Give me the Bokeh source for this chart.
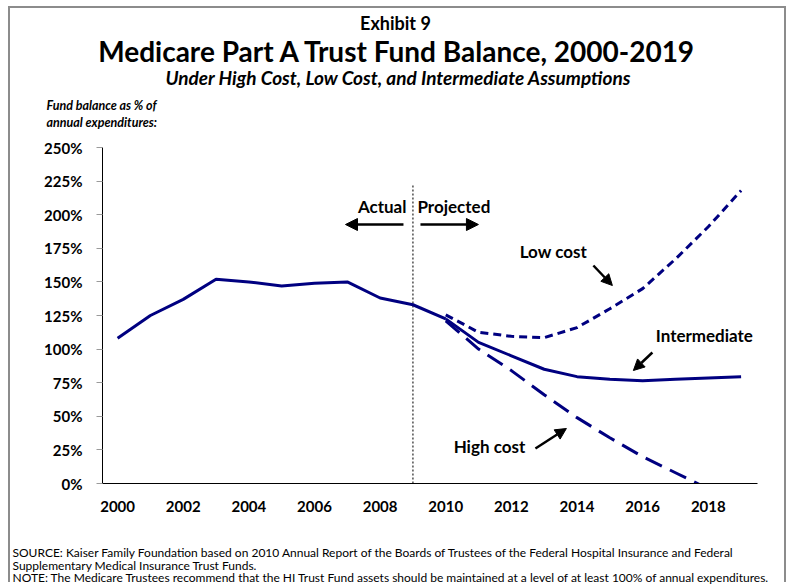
from bokeh.plotting import figure
from bokeh.models import (Range1d, FixedTicker, PrintfTickFormatter, Label, Arrow, NormalHead)
from bokeh.embed import file_html
from bokeh.resources import INLINE

# ---- data ----
years_actual = [2000, 2001, 2002, 2003, 2004, 2005, 2006, 2007, 2008, 2009, 2010]
actual = [108, 125, 137, 152, 150, 147, 149, 150, 138, 133, 122.5]

years_proj = [2010, 2011, 2012, 2013, 2014, 2015, 2016, 2017, 2018, 2019]
intermediate = [122.5, 105, 95, 85, 79.5, 77.5, 76.5, 77.5, 78.5, 79.5]
low_cost = [125.5, 112.5, 109.5, 108.5, 116, 130, 145, 167, 191, 218]
years_high = [2010, 2011, 2012, 2013, 2014, 2015, 2016, 2017, 2018]
high_cost = [121, 100, 84, 66, 49, 34, 20, 8, -4]

divider_year = 2009
divider_top = 223

x_ticks = [2000, 2002, 2004, 2006, 2008, 2010, 2012, 2014, 2016, 2018]
y_ticks = [0, 25, 50, 75, 100, 125, 150, 175, 200, 225, 250]

NAVY = "#000080"
FONT = "Lato"

# ---- main chart: canvas at page (10, 8) ----
p = figure(width=778, height=576, output_backend="svg", toolbar_location=None,
           x_range=Range1d(1999.54, 2019.5), y_range=Range1d(0, 250),
           min_border_left=92, min_border_right=31, min_border_top=139, min_border_bottom=101)
p.styles = {"margin-left": "8px", "margin-top": "6px",
            "border-left": "2px solid #8c8c8c", "border-top": "2px solid #8c8c8c",
            "border-right": "2px solid #8c8c8c"}
p.xgrid.visible = False
p.ygrid.visible = False
p.outline_line_color = None
p.background_fill_color = "white"
p.border_fill_color = "white"

p.yaxis.ticker = FixedTicker(ticks=y_ticks)
p.yaxis.formatter = PrintfTickFormatter(format="%d%%")
p.yaxis.major_tick_out = 6
p.yaxis.major_tick_in = 0
p.yaxis.minor_tick_line_color = None
p.yaxis.major_tick_line_color = "#9a9a9a"
p.yaxis.axis_line_color = "black"
p.yaxis.major_label_standoff = 14
p.xaxis.ticker = FixedTicker(ticks=x_ticks)
p.xaxis.major_tick_out = 0
p.xaxis.major_tick_in = 0
p.xaxis.minor_tick_line_color = None
p.xaxis.axis_line_color = "black"
p.xaxis.major_label_standoff = 17
for ax in (p.xaxis, p.yaxis):
    ax.major_label_text_font = FONT
    ax.major_label_text_font_style = "bold"
    ax.major_label_text_font_size = "15px"
    ax.major_label_text_color = "black"

p.segment(x0=[divider_year], y0=[0], x1=[divider_year], y1=[divider_top],
          line_color="#222222", line_width=1.2, line_dash="2 2")

p.line(years_actual, actual, line_color=NAVY, line_width=3)
p.line(years_proj, intermediate, line_color=NAVY, line_width=3)
p.line(years_proj, low_cost, line_color=NAVY, line_width=3, line_dash="8 5")
p.line(years_high, high_cost, line_color=NAVY, line_width=3, line_dash="18 9")


def dx(px):
    return 2000 + (px - 117) / 32.83


def dy(py):
    return (483 - py) / 1.344


def lab(text, px, py, align="left"):
    p.add_layout(Label(x=dx(px), y=dy(py), text=text, text_font=FONT, text_font_size="17px",
                       text_font_style="bold", text_align=align, text_baseline="middle",
                       text_color="black"))


def arr(x0, y0, x1, y1, size=11):
    p.add_layout(Arrow(end=NormalHead(size=size, fill_color="black", line_color="black"),
                       x_start=dx(x0), y_start=dy(y0), x_end=dx(x1), y_end=dy(y1),
                       line_color="black", line_width=2.5))


lab("Actual", 406, 206, align="right")
lab("Projected", 417, 206)
arr(403, 224, 345, 224, 12)
arr(420, 224, 478, 224, 12)
lab("Low cost", 553, 251, align="center")
arr(593, 265, 612, 285)
lab("Intermediate", 704, 335, align="center")
arr(652, 352, 633, 370)
lab("High cost", 489, 446, align="center")
arr(535, 448, 566, 428)

# ---- text overlay: transparent figure covering the whole page (page-pixel coordinates) ----
t = figure(width=788, height=584, output_backend="svg", toolbar_location=None,
           x_axis_type=None, y_axis_type=None,
           x_range=Range1d(0, 788), y_range=Range1d(584, 0),
           min_border_left=0, min_border_right=0, min_border_top=0, min_border_bottom=0)
t.styles = {"position": "absolute", "left": "0px", "top": "0px"}
t.outline_line_color = None
t.background_fill_color = None
t.border_fill_color = None
t.grid.visible = False


def tlab(text, x, y, size, style="bold", align="left"):
    t.add_layout(Label(x=x, y=y, text=text, text_font=FONT, text_font_size=size,
                       text_font_style=style, text_align=align, text_baseline="middle",
                       text_color="black"))


tlab("Exhibit 9", 395, 22, "18px", align="center")
tlab("Medicare Part A Trust Fund Balance, 2000-2019", 397, 50, "28px", align="center")
tlab("Under High Cost, Low Cost, and Intermediate Assumptions", 398, 77, "19px",
     style="bold italic", align="center")
tlab("Fund balance as % of", 46, 105, "12.5px", style="bold italic")
tlab("annual expenditures:", 46, 122, "12.5px", style="bold italic")
tlab("SOURCE:  Kaiser Family Foundation based on 2010 Annual Report of the Boards of Trustees of the Federal Hospital Insurance and Federal",
     12, 552, "12px", style="normal")
tlab("Supplementary Medical Insurance Trust Funds.", 12, 565, "12px", style="normal")
tlab("NOTE:  The Medicare Trustees recommend that the HI Trust Fund assets should be maintained at a level of at least 100% of annual expenditures.",
     12, 577, "12px", style="normal")

open("out.html", "w").write(file_html([p, t], INLINE))
